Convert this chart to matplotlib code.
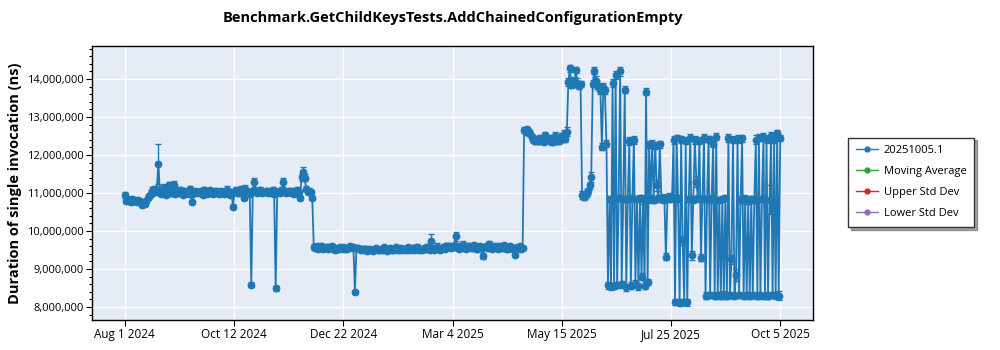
import matplotlib
matplotlib.use("Agg")
import matplotlib.pyplot as plt
import matplotlib.dates as mdates
from matplotlib.ticker import FuncFormatter, MultipleLocator
import pandas as pd

plt.rcParams['font.family'] = ['Open Sans', 'DejaVu Sans']

# one run per day, values in millions of ns
aug24 = [10.95, 10.78, 10.84, 10.80, 10.76, 10.85, 10.79, 10.82, 10.77, 10.83, 10.78, 10.68, 10.74, 10.72, 10.80, 10.88,
         10.93, 10.98, 11.05, 11.10, 11.02, 11.08, 11.76, 11.05, 10.98, 11.12, 11.15, 10.95, 11.04, 11.20, 11.00]
sep24 = [11.02, 11.22, 10.97, 11.05, 10.99, 11.08, 11.03, 10.96, 11.06, 11.00, 11.04, 10.98, 11.10, 10.77, 10.97,
         11.03, 11.06, 10.99, 11.02, 11.05, 10.96, 11.08, 11.01, 10.98, 11.04, 11.07, 11.00, 10.97, 11.03, 11.05]
oct24 = [11.04, 10.98, 11.06, 11.01, 10.97, 11.05, 11.09, 11.00, 10.96, 11.03, 10.64, 11.02, 11.07, 10.99, 11.04, 11.10,
         11.00, 10.87, 11.12, 11.05, 11.01, 10.98, 8.59, 11.06, 11.28, 11.03, 10.99, 11.04, 11.08, 11.00, 11.02]
nov24 = [11.03, 11.06, 10.99, 11.04, 11.01, 11.08, 10.98, 8.49, 11.02, 11.05, 11.00, 11.07, 11.28, 11.03, 10.99,
         11.04, 11.06, 11.01, 11.05, 10.98, 11.03, 11.07, 11.02, 10.88, 11.41, 11.55, 11.40, 11.12, 11.04, 11.06]
dec24 = [11.02, 10.87, 9.58, 9.55, 9.60, 9.53, 9.57, 9.62, 9.54, 9.56, 9.59, 9.52, 9.57, 9.55, 9.61, 9.54,
         9.50, 9.56, 9.53, 9.58, 9.55, 9.59, 9.52, 9.56, 9.54, 9.57, 9.60, 9.55, 9.58, 8.40, 9.56]
jan25 = [9.55, 9.52, 9.49, 9.53, 9.50, 9.54, 9.48, 9.51, 9.53, 9.50, 9.47, 9.52, 9.55, 9.49, 9.51, 9.54,
         9.50, 9.57, 9.53, 9.48, 9.52, 9.56, 9.51, 9.49, 9.54, 9.58, 9.52, 9.50, 9.55, 9.53, 9.51]
feb25 = [9.54, 9.51, 9.57, 9.50, 9.53, 9.56, 9.49, 9.52, 9.58, 9.51, 9.54, 9.50, 9.55, 9.52,
         9.57, 9.53, 9.50, 9.75, 9.54, 9.51, 9.56, 9.59, 9.53, 9.50, 9.55, 9.57, 9.52, 9.60]
mar25 = [9.58, 9.62, 9.55, 9.60, 9.57, 9.86, 9.59, 9.53, 9.61, 9.56, 9.64, 9.58, 9.54, 9.62, 9.57, 9.60,
         9.55, 9.63, 9.58, 9.52, 9.59, 9.61, 9.56, 9.34, 9.58, 9.62, 9.55, 9.66, 9.59, 9.54, 9.60]
apr25 = [9.57, 9.62, 9.54, 9.60, 9.58, 9.55, 9.63, 9.57, 9.52, 9.59, 9.61, 9.56, 9.53, 9.38, 9.58,
         9.55, 9.60, 9.53, 9.56, 12.66, 12.62, 12.68, 12.60, 12.56, 12.47, 12.40, 12.36, 12.42, 12.38, 12.45]
may25 = [12.37, 12.43, 12.35, 12.52, 12.40, 12.38, 12.46, 12.34, 12.42, 12.50, 12.37, 12.44, 12.36, 12.48, 12.41, 12.55,
         12.42, 12.62, 13.92, 14.28, 13.85, 13.95, 13.88, 14.25, 13.90, 13.82, 13.86, 10.95, 10.90, 10.93, 11.00]
jun25 = [11.05, 11.20, 11.42, 13.88, 14.22, 13.95, 13.85, 13.80, 13.72, 12.22, 13.80, 13.70, 12.30, 8.57, 10.85,
         8.55, 13.90, 8.55, 14.10, 8.58, 10.88, 14.20, 8.60, 10.85, 13.72, 8.52, 10.84, 12.37, 8.56, 10.86]
jul25 = [12.40, 8.62, 10.85, 8.55, 10.88, 8.80, 10.84, 8.56, 13.67, 8.66, 12.27, 10.85, 12.30, 10.82, 12.25, 11.20,
         10.86, 12.28, 10.84, 10.88, 10.85, 9.32, 10.86, 10.90, 10.85, 10.87, 12.40, 8.13, 12.45, 10.86, 8.12]
aug25 = [12.42, 9.76, 8.14, 12.38, 8.13, 10.85, 12.46, 9.36, 10.84, 12.40, 11.30, 10.86, 12.38, 9.30, 10.85, 12.45,
         8.30, 10.84, 12.42, 8.32, 10.85, 12.30, 8.30, 12.48, 8.31, 10.82, 8.29, 10.85, 8.32, 10.86, 8.30]
sep25 = [12.45, 8.31, 9.26, 12.40, 8.30, 8.84, 12.42, 8.33, 10.82, 12.44, 8.30, 10.85, 8.31, 10.80, 8.29,
         10.84, 8.32, 10.83, 12.40, 8.30, 12.46, 8.31, 10.85, 12.48, 8.30, 12.42, 8.30, 10.82, 12.50, 8.31]
oct25 = [12.40, 8.31, 12.58, 8.30, 12.45]

# std dev per run, in units of 10,000 ns
aug24_err = [8, 5, 6, 5, 6, 5, 7, 5, 6, 5, 6, 5, 6, 5, 5, 7, 8, 9, 10, 8, 7, 9, 53, 8, 6, 10, 7, 6, 8, 9, 7]
sep24_err = [6, 9, 5, 7, 6, 8, 6, 5, 7, 6, 8, 5, 9, 6, 5, 7, 6, 5, 8, 6, 5, 7, 6, 5, 8, 6, 7, 5, 6, 8]
oct24_err = [7, 5, 6, 8, 5, 7, 9, 6, 5, 7, 6, 5, 8, 6, 7, 9, 6, 5, 8, 7, 6, 5, 6, 7, 12, 6, 5, 7, 8, 6, 5]
nov24_err = [6, 8, 5, 7, 6, 9, 5, 6, 7, 5, 6, 8, 12, 6, 5, 7, 8, 6, 5, 7, 6, 9, 7, 5, 10, 14, 9, 7, 6, 8]
dec24_err = [7, 6, 8, 5, 6, 5, 7, 6, 5, 8, 6, 5, 7, 5, 6, 8, 5, 6, 7, 5, 6, 5, 8, 6, 5, 7, 6, 5, 6, 5, 7]
jan25_err = [5, 6, 5, 7, 5, 6, 5, 8, 5, 6, 5, 7, 6, 5, 6, 5, 7, 5, 6, 5, 8, 5, 6, 7, 5, 6, 5, 7, 5, 6, 5]
feb25_err = [6, 5, 7, 5, 6, 8, 5, 6, 7, 5, 6, 5, 7, 6, 8, 5, 6, 16, 6, 5, 7, 9, 5, 6, 7, 6, 5, 8]
mar25_err = [6, 7, 5, 8, 6, 12, 5, 6, 7, 5, 9, 6, 5, 7, 6, 5, 8, 6, 5, 7, 6, 5, 8, 7, 6, 5, 7, 9, 6, 5, 7]
apr25_err = [6, 5, 7, 6, 5, 8, 6, 5, 7, 6, 5, 8, 6, 7, 5, 6, 7, 5, 6, 8, 7, 6, 9, 7, 8, 6, 7, 5, 8, 6]
may25_err = [7, 10, 6, 9, 7, 6, 8, 7, 6, 12, 7, 8, 6, 9, 7, 10, 8, 12, 10, 9, 8, 10, 9, 8, 12, 9, 8, 10, 8, 9, 10]
jun25_err = [9, 10, 14, 10, 9, 12, 10, 8, 11, 9, 10, 9, 10, 9, 8, 9, 10, 8, 11, 9, 8, 12, 9, 8, 10, 9, 8, 10, 9, 8]
jul25_err = [10, 9, 8, 9, 8, 10, 12, 9, 10, 8, 9, 10, 9, 8, 10, 15, 9, 10, 8, 9, 10, 9, 8, 10, 9, 8, 10, 8, 9, 10, 8]
aug25_err = [9, 12, 8, 10, 9, 8, 10, 12, 9, 10, 14, 9, 10, 9, 8, 10, 9, 8, 9, 8, 10, 9, 8, 9, 10, 8, 9, 8, 10, 8, 9]
sep25_err = [10, 8, 12, 9, 8, 15, 10, 8, 9, 10, 8, 9, 8, 10, 8, 9, 8, 10, 12, 8, 10, 9, 8, 11, 8, 10, 9, 38, 10, 8]
oct25_err = [8, 10, 8, 12, 9]

x_tick_labels = ["Aug 1 2024", "Oct 12 2024", "Dec 22 2024", "Mar 4 2025", "May 15 2025", "Jul 25 2025", "Oct 5 2025"]
legend_names = ["20251005.1", "Moving Average", "Upper Std Dev", "Lower Std Dev"]
legend_colors = ["#1f77b4", "#2ca02c", "#d62728", "#9467bd"]

values = (aug24 + sep24 + oct24 + nov24 + dec24 + jan25 + feb25 + mar25 + apr25 + may25 + jun25 + jul25
          + aug25 + sep25 + oct25)
errs = (aug24_err + sep24_err + oct24_err + nov24_err + dec24_err + jan25_err + feb25_err + mar25_err + apr25_err
        + may25_err + jun25_err + jul25_err + aug25_err + sep25_err + oct25_err)
dates = pd.date_range("2024-08-01", "2025-10-05", freq="D")
assert len(values) == len(dates) == len(errs)

df = pd.DataFrame({"date": dates, "ns": [v * 1e6 for v in values], "std": [e * 1e4 for e in errs]})

fig = plt.figure(figsize=(10, 3.5), dpi=100)
ax = fig.add_axes([0.092, 0.0857, 0.721, 0.7829])
ax.set_facecolor("#E5ECF6")

ax.errorbar(df["date"], df["ns"], yerr=df["std"], fmt="-o", color=legend_colors[0], ms=4.6, lw=1.3,
            elinewidth=1, capsize=2.5, capthick=1, zorder=3)
# the other series have nothing to draw, only legend entries
for name, c in zip(legend_names, legend_colors):
    ax.plot([], [], "-o", color=c, ms=3.5, lw=1, label=name)

# axis ranges (5% padding each side of the data)
start = mdates.date2num(df["date"].iloc[0])
end = mdates.date2num(df["date"].iloc[-1])
pad = (end - start) * 0.05
ax.set_xlim(start - pad, end + pad)
ax.set_ylim(7.66e6, 14.87e6)

ax.set_xticks([start + k * (end - start) / 6 for k in range(7)])
ax.set_xticklabels(x_tick_labels, fontsize=8.5)
ax.yaxis.set_major_locator(MultipleLocator(1e6))
ax.yaxis.set_minor_locator(MultipleLocator(2e5))
ax.yaxis.set_major_formatter(FuncFormatter(lambda v, p: f"{v:,.0f}"))
ax.tick_params(axis="y", labelsize=8, length=4, width=0.8, pad=2)
ax.tick_params(axis="y", which="minor", length=2.5, width=0.8)
ax.tick_params(axis="x", length=4, width=0.8, pad=1.5)

ax.grid(True, color="white", lw=1)
ax.set_axisbelow(True)
for s in ax.spines.values():
    s.set_color("black")
    s.set_linewidth(1)

ax.set_ylabel("Duration of single invocation (ns)", fontsize=10.5, fontweight="bold")
ax.yaxis.set_label_coords(-0.097, 0.5)
fig.text(0.4525, 0.949, "Benchmark.GetChildKeysTests.AddChainedConfigurationEmpty", ha="center", va="center",
         fontsize=10.5, fontweight="bold")

leg = fig.legend(loc="center left", bbox_to_anchor=(0.848, 0.479), borderaxespad=0, fontsize=8,
                 frameon=True, fancybox=False, shadow=True, handlelength=2.0, labelspacing=0.9,
                 borderpad=0.7, handletextpad=0.5)
leg.get_frame().set_edgecolor("#333333")
leg.get_frame().set_linewidth(1)

fig.savefig("out.png", dpi=100)
